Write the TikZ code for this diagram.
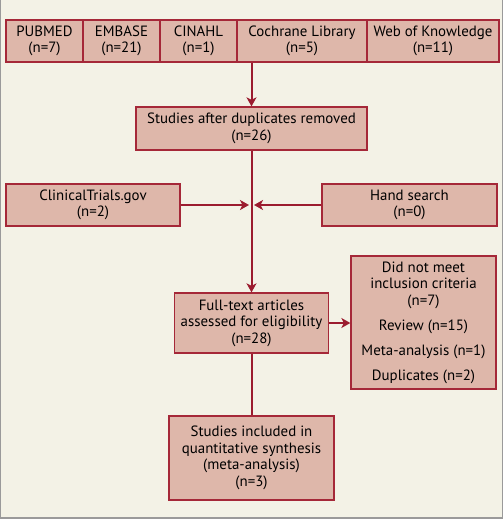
\documentclass[tikz,border=0pt]{standalone}
\usepackage{fontspec}
\setmainfont{PT Sans}
\usetikzlibrary{arrows.meta,calc}
\definecolor{bgc}{HTML}{F3F2E6}
\definecolor{boxfill}{HTML}{DEB7AA}
\definecolor{boxline}{HTML}{A52838}
\definecolor{arrc}{HTML}{9B1C2F}
\definecolor{framec}{HTML}{9A9A9A}
\tikzset{
  box/.style={draw=boxline, fill=boxfill, line width=1.3pt, inner sep=0pt, align=center,
    font=\fontsize{14.9}{16.5}\selectfont},
  conn/.style={draw=arrc, line width=2pt},
  arr/.style={conn, -{Stealth[length=9pt,width=10pt,inset=2.5pt]}},
}
\begin{document}
\begin{tikzpicture}[x=1pt,y=-1pt]
\useasboundingbox (0,0) rectangle (503,520);
\fill[bgc] (0,0) rectangle (503,518);
\draw[framec, line width=1.2pt] (0.6,0) -- (0.6,518) -- (502.4,518) -- (502.4,0);

\node[box, minimum width=77pt, minimum height=42pt] (pub) at (44.5,41) {PUBMED\\(n=7)};
\node[box, minimum width=77pt, minimum height=42pt] (emb) at (121.5,41) {EMBASE\\(n=21)};
\node[box, minimum width=77pt, minimum height=42pt] (cin) at (198.5,41) {CINAHL\\(n=1)};
\node[box, minimum width=130pt, minimum height=42pt] (coch) at (302,41) {Cochrane Library\\(n=5)};
\node[box, minimum width=132pt, minimum height=42pt] (wok) at (433,41) {Web of Knowledge\\(n=11)};

\node[box, minimum width=231pt, minimum height=43pt] (dup) at (251.5,128.5) {Studies after duplicates removed\\(n=26)};
\node[box, minimum width=174pt, minimum height=42pt] (ct) at (93,205) {ClinicalTrials.gov\\(n=2)};
\node[box, minimum width=175pt, minimum height=42pt] (hs) at (409.5,205) {Hand search\\(n=0)};
\node[box, minimum width=154pt, minimum height=60pt] (ft) at (251.5,323) {Full-text articles\\assessed for eligibility\\(n=28)};
\node[box, minimum width=145pt, minimum height=133pt] (ex) at (423.5,322.5) {Did not meet\\inclusion criteria\\(n=7)\\[8.5pt]Review (n=15)\\[8.5pt]Meta-analysis (n=1)\\[8.5pt]Duplicates (n=2)};
\node[box, minimum width=165pt, minimum height=84pt] (fin) at (251.5,458) {Studies included in\\quantitative synthesis\\(meta-analysis)\\(n=3)};

\coordinate (top) at (dup.north |- coch.south);
\coordinate (mid) at (dup.south |- ct.east);
\draw[arr] (top) -- (dup.north);
\draw[arr] (dup.south) -- (ft.north);
\draw[arr, shorten >=2.5pt] (ct.east) -- (mid);
\draw[arr, shorten >=2.5pt] (hs.west) -- (mid);
\draw[arr] (ft.east) -- (ft.east -| ex.west);
\draw[conn] (ft.south) -- (fin.north);
\end{tikzpicture}
\end{document}
